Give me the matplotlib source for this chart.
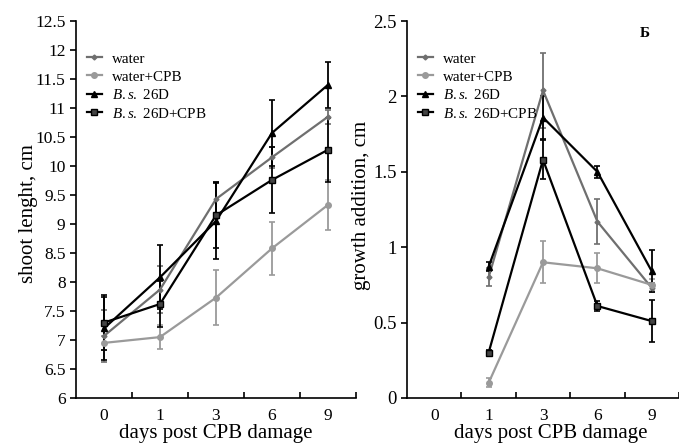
import numpy as np
import matplotlib
matplotlib.use("Agg")
import matplotlib.pyplot as plt

plt.rcParams['font.family'] = ['Liberation Serif', 'DejaVu Serif']
plt.rcParams['mathtext.fontset'] = 'custom'
plt.rcParams['mathtext.rm'] = 'Liberation Serif'
plt.rcParams['mathtext.it'] = 'Liberation Serif:italic'

# categories (days post CPB damage)
days = ['0', '1', '3', '6', '9']

# shoot length, cm
len_water = [7.07, 7.87, 9.43, 10.15, 10.85]
len_water_err = [0.45, 0.4, 0.3, 0.18, 0.12]
len_water_cpb = [6.95, 7.05, 7.73, 8.58, 9.33]
len_water_cpb_err = [0.12, 0.21, 0.47, 0.46, 0.43]
len_bs = [7.2, 8.08, 9.05, 10.57, 11.4]
len_bs_err = [0.55, 0.55, 0.65, 0.57, 0.4]
len_bs_cpb = [7.3, 7.62, 9.15, 9.76, 10.28]
len_bs_cpb_err = [0.47, 0.4, 0.57, 0.57, 0.55]

# growth addition, cm (no value for day 0)
gr_days = ['1', '3', '6', '9']
gr_water = [0.80, 2.04, 1.17, 0.73]
gr_water_err = [0.06, 0.25, 0.15, 0.03]
gr_water_cpb = [0.10, 0.90, 0.86, 0.75]
gr_water_cpb_err = [0.03, 0.14, 0.10, 0.04]
gr_bs = [0.87, 1.86, 1.50, 0.84]
gr_bs_err = [0.03, 0.14, 0.04, 0.14]
gr_bs_cpb = [0.30, 1.58, 0.61, 0.51]
gr_bs_cpb_err = [0.02, 0.13, 0.03, 0.14]

labels = ['water', 'water+CPB', '$\\mathit{B.s.}$ 26D', '$\\mathit{B.s.}$ 26D+CPB']
styles = [
    dict(color='#6f6f6f', marker='D', ms=2.5),
    dict(color='#9a9a9a', marker='o', ms=4),
    dict(color='black', marker='^', ms=4.5),
    dict(color='black', marker='s', ms=4.5, mfc='#444444'),
]

fig = plt.figure(figsize=(6.79, 4.43), dpi=100)
ax1 = fig.add_axes([76/679, 45/443, 280/679, 377/443])
ax2 = fig.add_axes([407/679, 45/443, 272/679, 377/443])

x_all = np.arange(len(days))
x_gr = np.arange(1, len(days))

series1 = [(len_water, len_water_err), (len_water_cpb, len_water_cpb_err),
           (len_bs, len_bs_err), (len_bs_cpb, len_bs_cpb_err)]
series2 = [(gr_water, gr_water_err), (gr_water_cpb, gr_water_cpb_err),
           (gr_bs, gr_bs_err), (gr_bs_cpb, gr_bs_cpb_err)]

for ax, x, series in ((ax1, x_all, series1), (ax2, x_gr, series2)):
    handles = []
    for (vals, err), st, lab in zip(series, styles, labels):
        c = ax.errorbar(x, vals, yerr=err, lw=1.6, capsize=2.5, elinewidth=1.3,
                        capthick=1.2, label=lab, **st)
        handles.append(c[0])
    ax.legend(handles, labels, loc='upper left', bbox_to_anchor=(0.0, 0.945),
              frameon=False, fontsize=10.8, handlelength=1.0,
              handletextpad=0.7, labelspacing=0.3, borderaxespad=0.3)

ax1.set_ylim(6, 12.5)
ax1.set_yticks(np.arange(6, 12.51, 0.5))
ax1.set_yticklabels(['%g' % v for v in np.arange(6, 12.51, 0.5)])
ax1.set_xlim(-0.5, 4.5)
ax1.set_ylabel('shoot lenght, cm', fontsize=15)
ax1.yaxis.set_label_coords(-0.137, 0.49)
ax1.set_xlabel('days post CPB damage', fontsize=15)
ax1.xaxis.set_label_coords(0.5, -0.068)

ax2.set_ylim(0, 2.5)
ax2.set_yticks(np.arange(0, 2.51, 0.5))
ax2.set_yticklabels(['%g' % v for v in np.arange(0, 2.51, 0.5)])
ax2.set_xlim(-0.5, 4.36)
ax2.set_ylabel('growth addition, cm', fontsize=15)
ax2.yaxis.set_label_coords(-0.132, 0.51)
ax2.set_xlabel('days post CPB damage', fontsize=15)
ax2.xaxis.set_label_coords(0.53, -0.068)
ax2.text(0.875, 0.968, 'Б', transform=ax2.transAxes, fontsize=11,
         fontweight='bold', ha='center', va='center')

for ax in (ax1, ax2):
    for s in ('top', 'right'):
        ax.spines[s].set_visible(False)
    ax.spines['left'].set_linewidth(1.2)
    ax.spines['bottom'].set_linewidth(1.2)
    ax.set_xticks(x_all)
    ax.set_xticklabels(days)
    ax.set_xticks(np.arange(0.5, 4.6, 1), minor=True)
    ax.tick_params(axis='x', which='major', length=0, labelsize=12.5, pad=7)
    ax.tick_params(axis='x', which='minor', direction='in', length=4, width=1.2)
    ax.tick_params(axis='y', direction='out', length=4, width=1.2, labelsize=12.5)
ax2.tick_params(axis='y', labelsize=13.5)

fig.savefig('out.png', dpi=100)
